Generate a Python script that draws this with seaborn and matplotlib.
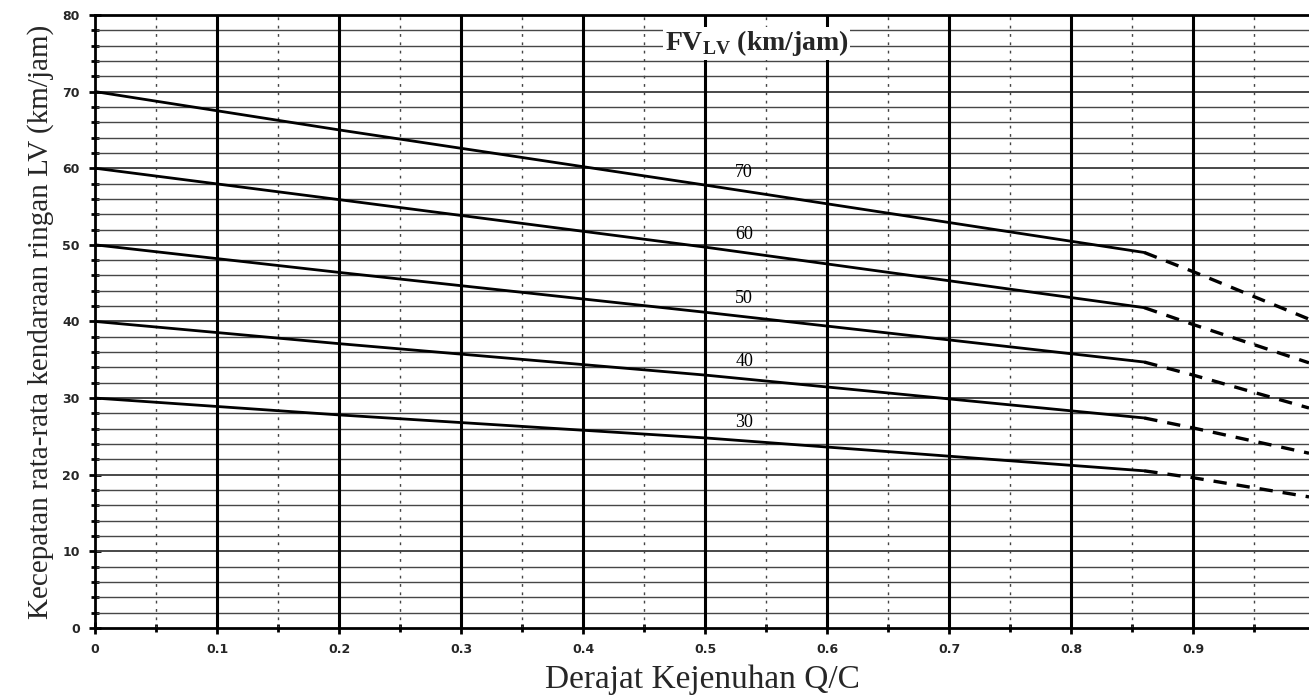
import numpy as np
import pandas as pd
import matplotlib
matplotlib.use("Agg")
import matplotlib.pyplot as plt
import seaborn as sns

# ---- data ----
fv_values = [70, 60, 50, 40, 30]
qc_solid = [0.0, 0.2, 0.5, 0.86]
speed_solid = {
    70: [70.0, 65.0, 57.8, 49.0],
    60: [60.0, 55.9, 49.7, 41.8],
    50: [50.0, 46.4, 41.2, 34.7],
    40: [40.0, 37.1, 33.0, 27.4],
    30: [30.0, 27.8, 24.8, 20.5],
}
qc_dashed = [0.86, 0.9, 0.995]
speed_dashed = {
    70: [49.0, 46.5, 40.3],
    60: [41.8, 39.6, 34.6],
    50: [34.7, 33.0, 28.7],
    40: [27.4, 26.1, 22.8],
    30: [20.5, 19.6, 17.1],
}
label_x = 0.532
label_y = [59.5, 51.3, 43.0, 34.8, 26.8]
x_ticklabels = ["0", "0.1", "0.2", "0.3", "0.4", "0.5", "0.6", "0.7", "0.8", "0.9"]
y_ticklabels = ["0", "10", "20", "30", "40", "50", "60", "70", "80"]

solid_df = pd.DataFrame(
    [(q, v, f) for f in fv_values for q, v in zip(qc_solid, speed_solid[f])],
    columns=["qc", "speed", "fv"],
)
dashed_df = pd.DataFrame(
    [(q, v, f) for f in fv_values for q, v in zip(qc_dashed, speed_dashed[f])],
    columns=["qc", "speed", "fv"],
)

sns.set_theme(style="white")
plt.rcParams["font.family"] = ["Liberation Serif", "DejaVu Serif"]
plt.rcParams["mathtext.fontset"] = "custom"
plt.rcParams["mathtext.rm"] = "Liberation Serif"
plt.rcParams["mathtext.bf"] = "Liberation Serif:bold"

fig = plt.figure(figsize=(13.09, 7.0), dpi=100)
ax = fig.add_axes([0.0726, 0.103, 0.9274, 0.8756])
ax.set_facecolor("white")

# grid
for yv in np.arange(2, 80, 2):
    ax.axhline(yv, color="#474747", lw=1.0 if yv % 10 else 1.4, zorder=1)
for xv in np.arange(0.1, 1.0, 0.1):
    ax.axvline(xv, color="black", lw=2.2, zorder=1)
for xv in np.arange(0.05, 1.0, 0.1):
    ax.axvline(xv, color="#444444", lw=1.0, ls=(0, (2, 4)), zorder=1)

sns.lineplot(data=solid_df, x="qc", y="speed", units="fv", estimator=None,
             color="black", lw=2.0, ax=ax, zorder=3, legend=False)
sns.lineplot(data=dashed_df, x="qc", y="speed", units="fv", estimator=None,
             color="black", lw=2.4, ax=ax, zorder=3, legend=False,
             linestyle=(0, (4, 3)))

for f, ly in zip(fv_values, label_y):
    ax.text(label_x, ly, str(f), fontsize=13, ha="center", va="center",
            color="black", zorder=4)

ax.text(0.467, 76.3, r"FV$_{\mathbf{LV}}$ (km/jam)", fontsize=20,
        fontweight="bold", ha="left", va="center", zorder=4,
        bbox=dict(facecolor="white", edgecolor="none", pad=1))

ax.set_xlim(0, 0.995)
ax.set_ylim(0, 80)
ax.set_xticks(np.arange(0, 0.95, 0.1))
ax.set_xticklabels(x_ticklabels, fontsize=9, fontweight="bold",
                   family="DejaVu Sans")
ax.set_xticks(np.arange(0.05, 1.0, 0.1), minor=True)
ax.set_yticks(np.arange(0, 81, 10))
ax.set_yticklabels(y_ticklabels, fontsize=9, fontweight="bold",
                   family="DejaVu Sans")
ax.set_yticks(np.arange(0, 81, 2), minor=True)
ax.tick_params(axis="both", which="both", bottom=True, left=True,
               top=False, right=False)
ax.tick_params(axis="both", which="major", direction="inout", length=8,
               width=2, color="black", pad=7)
ax.tick_params(axis="both", which="minor", direction="inout", length=6,
               width=2, color="black")

ax.set_xlabel("Derajat Kejenuhan Q/C", fontsize=24, labelpad=6)
ax.set_ylabel("Kecepatan rata-rata kendaraan ringan LV (km/jam)",
              fontsize=21, labelpad=6)

for side in ["left", "bottom", "top"]:
    ax.spines[side].set_visible(True)
    ax.spines[side].set_color("black")
    ax.spines[side].set_linewidth(2)
ax.spines["right"].set_visible(False)

fig.savefig("out.png", dpi=100, facecolor="white")
